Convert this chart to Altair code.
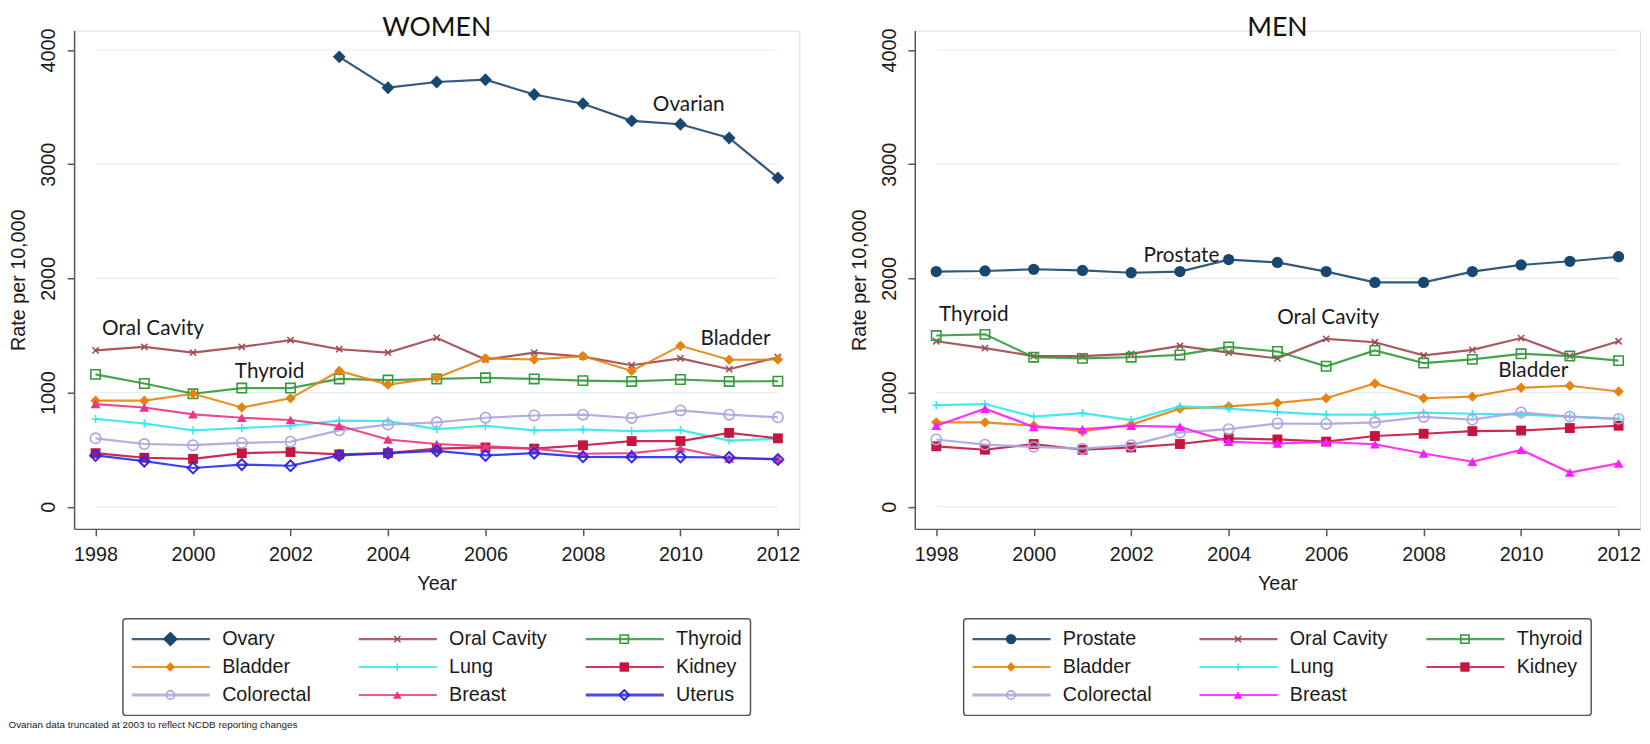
import altair as alt
import pandas as pd

years = list(range(1998, 2013))

# ---- WOMEN ----
women_names = ["Ovary", "Oral Cavity", "Thyroid", "Bladder", "Lung", "Kidney",
               "Colorectal", "Breast", "Uterus"]
w_ovary = [None, None, None, None, None, 3940, 3670, 3720, 3740, 3610, 3530, 3380, 3350, 3230, 2880]
w_oral = [1370, 1400, 1350, 1400, 1460, 1380, 1350, 1480, 1290, 1350, 1315, 1240, 1300, 1205, 1310]
w_thyroid = [1160, 1080, 990, 1040, 1040, 1120, 1110, 1120, 1130, 1120, 1105, 1098, 1115, 1098, 1100]
w_bladder = [930, 930, 990, 870, 950, 1190, 1070, 1130, 1300, 1290, 1320, 1190, 1410, 1288, 1290]
w_lung = [770, 730, 670, 690, 710, 755, 750, 680, 710, 670, 677, 663, 671, 580, 595]
w_kidney = [470, 430, 420, 470, 480, 460, 470, 510, 520, 510, 539, 576, 576, 648, 600]
w_colorectal = [600, 550, 540, 560, 570, 670, 720, 740, 780, 800, 807, 778, 844, 807, 784]
w_breast = [900, 870, 810, 780, 760, 710, 590, 550, 530, 510, 465, 470, 513, 423, 420]
w_uterus = [450, 400, 340, 370, 360, 450, 470, 490, 450, 470, 438, 436, 436, 432, 415]
women_values = [w_ovary, w_oral, w_thyroid, w_bladder, w_lung, w_kidney,
                w_colorectal, w_breast, w_uterus]

# ---- MEN ----
men_names = ["Prostate", "Oral Cavity", "Thyroid", "Bladder", "Lung", "Kidney",
             "Colorectal", "Breast"]
m_prostate = [2060, 2065, 2080, 2070, 2050, 2060, 2165, 2140, 2060, 1965, 1965, 2060, 2118, 2150, 2190]
m_oral = [1450, 1390, 1320, 1320, 1340, 1410, 1350, 1300, 1470, 1441, 1326, 1374, 1478, 1320, 1450]
m_thyroid = [1500, 1510, 1310, 1300, 1310, 1330, 1400, 1360, 1231, 1369, 1259, 1291, 1340, 1320, 1280]
m_bladder = [740, 740, 710, 660, 720, 860, 880, 910, 951, 1080, 951, 965, 1043, 1060, 1010]
m_lung = [890, 900, 790, 820, 760, 880, 860, 830, 807, 807, 825, 815, 807, 790, 770]
m_kidney = [530, 500, 550, 500, 520, 550, 600, 590, 571, 620, 640, 663, 668, 690, 710]
m_colorectal = [590, 545, 525, 510, 540, 650, 680, 730, 726, 740, 787, 763, 827, 790, 770]
m_breast = [710, 860, 700, 680, 710, 700, 570, 555, 568, 548, 467, 395, 499, 300, 380]
men_values = [m_prostate, m_oral, m_thyroid, m_bladder, m_lung, m_kidney,
              m_colorectal, m_breast]

y_ticks = [0, 1000, 2000, 3000, 4000]
x_ticks = [1998, 2000, 2002, 2004, 2006, 2008, 2010, 2012]

women_labels = [("Oral Cavity", 1999.18, 1560), ("Thyroid", 2001.57, 1176),
                ("Bladder", 2011.13, 1467), ("Ovarian", 2010.17, 3514)]
men_labels = [("Prostate", 2003.03, 2195), ("Thyroid", 1998.77, 1677),
              ("Oral Cavity", 2006.04, 1649), ("Bladder", 2010.25, 1190)]

footnote = "Ovarian data truncated at 2003 to reflect NCDB reporting changes"

# ---- styles ----
X_PATH = "M-1,-1L1,1M-1,1L1,-1"
PLUS_PATH = "M-1,0L1,0M0,-1L0,1"
STYLE = {
    "Ovary": dict(color="#1a476f", shape="diamond", filled=True, size=170, lsize=230, sw=1),
    "Prostate": dict(color="#1a476f", shape="circle", filled=True, size=130, lsize=110, sw=1),
    "Oral Cavity": dict(color="#a0464c", shape=X_PATH, filled=False, size=40, lsize=40, sw=1.5),
    "Thyroid": dict(color="#33993a", shape="square", filled=False, size=90, lsize=70, sw=1.6),
    "Bladder": dict(color="#e5830f", shape="diamond", filled=True, size=110, lsize=90, sw=1),
    "Lung": dict(color="#30e8ee", shape=PLUS_PATH, filled=False, size=70, lsize=60, sw=1.5),
    "Kidney": dict(color="#c4153e", shape="square", filled=True, size=100, lsize=90, sw=1),
    "Colorectal": dict(color="#aaa4e0", shape="circle", filled=False, size=110, lsize=70, sw=1.6),
    "Breast": dict(color="#ee3583", shape="triangle-up", filled=True, size=100, lsize=80, sw=1),
    "Uterus": dict(color="#2b2bea", shape="diamond", filled=False, size=120, lsize=100, sw=2),
}
MEN_BREAST = "#ff1cff"

AX_FONT = "Liberation Sans"
ANN_FONT = "Lato"

XS = alt.Scale(domain=[1997.56, 2012.44], nice=False, zero=False)
YS = alt.Scale(domain=[-193, 4170], nice=False, zero=False)
AX_COMMON = dict(labelFontSize=20, titleFontSize=20, labelFont=AX_FONT, titleFont=AX_FONT,
                 labelColor="#1a1a1a", titleColor="#1a1a1a", titleFontWeight="normal",
                 domainColor="#555555", domainWidth=1.5, tickColor="#555555", tickWidth=1.5,
                 tickSize=7, labelFlush=False, grid=False, format="d")
X_AXIS = alt.Axis(values=x_ticks, title="Year", labelPadding=9,
                  titlePadding=9, **AX_COMMON)
Y_AXIS = alt.Axis(values=y_ticks, title="Rate per 10,000", labelAngle=270,
                  labelAlign="center", labelBaseline="bottom", labelPadding=9,
                  titlePadding=10, **AX_COMMON)


def panel(title, names, values, labels, breast_color):
    rows = []
    for name, vals in zip(names, values):
        for yr, v in zip(years, vals):
            if v is not None:
                rows.append({"series": name, "year": yr, "rate": v})
    df = pd.DataFrame(rows)
    xenc = alt.X("year:Q", scale=XS, axis=X_AXIS)
    yenc = alt.Y("rate:Q", scale=YS, axis=Y_AXIS)

    grid_df = pd.DataFrame({"rate": y_ticks, "year": years[0], "x1": years[-1]})
    grid = alt.Chart(grid_df).mark_rule(color="#e4eef0", strokeWidth=1.2).encode(
        x=xenc, x2="x1:Q", y=yenc)

    layers = [grid]
    base = alt.Chart(df)
    for name in names:
        st = STYLE[name]
        col = breast_color if name == "Breast" else st["color"]
        sub = base.transform_filter(alt.datum.series == name)
        layers.append(sub.mark_line(color=col, strokeWidth=2.2, opacity=0.9).encode(x=xenc, y=yenc))
        layers.append(sub.mark_point(shape=st["shape"], filled=st["filled"], size=st["size"],
                                     color=col, strokeWidth=st["sw"], opacity=1).encode(x=xenc, y=yenc))

    ann_df = pd.DataFrame(labels, columns=["label", "year", "rate"])
    ann = alt.Chart(ann_df).mark_text(font=ANN_FONT, fontSize=21, color="#1a1a1a",
                                      align="center", baseline="middle").encode(
        x=xenc, y=yenc, text="label:N")
    layers.append(ann)

    return alt.layer(*layers).properties(
        width=735, height=505,
        title=alt.TitleParams(title, fontSize=27, font=ANN_FONT, fontWeight="normal",
                              color="#111111", anchor="middle", offset=-14))


def legend(names, breast_color, width):
    df = pd.DataFrame({"series": names, "idx": list(range(len(names)))})
    df["col"] = df["idx"] % 3
    df["row"] = df["idx"] // 3
    lx = alt.Scale(domain=[0, width / 230.0], nice=False, zero=False)
    ly = alt.Scale(domain=[-0.73, 2.73], nice=False, zero=False, reverse=True)
    base = alt.Chart(df).transform_calculate(
        xa="datum.col + 0.039", xb="datum.col + 0.383",
        xm="datum.col + 0.209", xt="datum.col + 0.437")
    layers = []
    for name in names:
        st = STYLE[name]
        col = breast_color if name == "Breast" else st["color"]
        sub = base.transform_filter(alt.datum.series == name)
        sw = 3 if name in ("Colorectal", "Uterus") else 2.2
        layers.append(sub.mark_rule(color=col, strokeWidth=sw, opacity=0.85).encode(
            x=alt.X("xa:Q", scale=lx, axis=None), x2="xb:Q",
            y=alt.Y("row:Q", scale=ly, axis=None)))
        layers.append(sub.mark_point(shape=st["shape"], filled=st["filled"], size=st["lsize"],
                                     color=col, strokeWidth=st["sw"], opacity=1).encode(
            x=alt.X("xm:Q", scale=lx, axis=None), y=alt.Y("row:Q", scale=ly, axis=None)))
    layers.append(base.mark_text(font=AX_FONT, fontSize=20, color="#1a1a1a",
                                 align="left", baseline="middle").encode(
        x=alt.X("xt:Q", scale=lx, axis=None), y=alt.Y("row:Q", scale=ly, axis=None),
        text="series:N"))
    return alt.layer(*layers).properties(
        width=width, height=98,
        view=alt.ViewBackground(stroke="#555555", strokeWidth=1.5, cornerRadius=3, fill="white"))


women = panel("WOMEN", women_names, women_values, women_labels, STYLE["Breast"]["color"])
men = panel("MEN", men_names, men_values, men_labels, MEN_BREAST)

left = alt.vconcat(women, legend(women_names, STYLE["Breast"]["color"], 636),
                   spacing=91, center=True, bounds="flush")
right = alt.vconcat(men, legend(men_names, MEN_BREAST, 636),
                    spacing=91, center=True, bounds="flush")

chart = alt.hconcat(left, right, spacing=48,
                    title=alt.TitleParams(footnote, orient="bottom", anchor="start",
                                          fontSize=10, font=AX_FONT, fontWeight="normal",
                                          color="#222222", offset=4, frame="bounds")
                    ).properties(
    padding={"left": 0, "top": 0, "right": 0, "bottom": 0}
).configure_view(stroke=None).configure(background="white")

chart.save("out.html", embed_options={"renderer": "svg", "actions": False})
